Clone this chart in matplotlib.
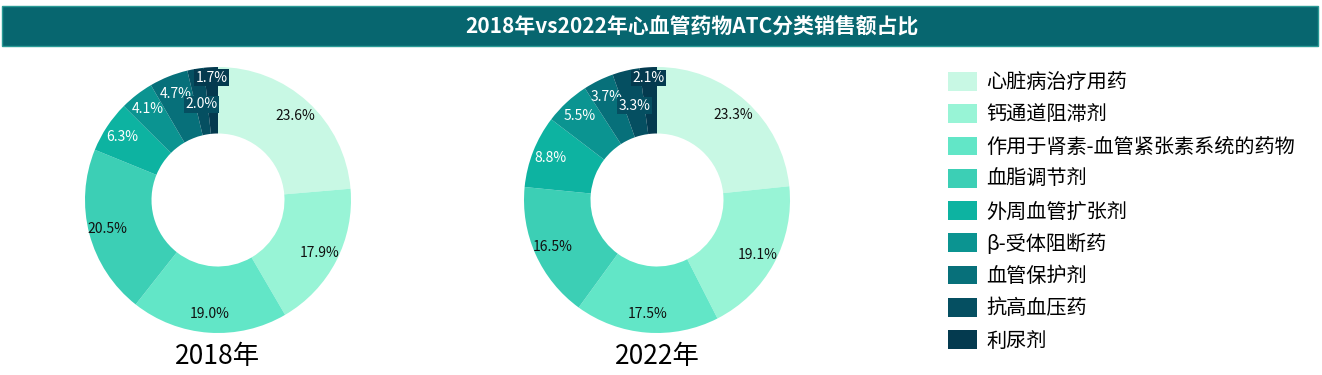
import matplotlib
matplotlib.use('Agg')
import numpy as np
import matplotlib.pyplot as plt
from matplotlib.patches import Patch, Rectangle

plt.rcParams['font.family'] = ['Noto Sans CJK SC', 'DejaVu Sans']

# data
categories = ['心脏病治疗用药', '钙通道阻滞剂', '作用于肾素-血管紧张素系统的药物', '血脂调节剂',
              '外周血管扩张剂', 'β-受体阻断药', '血管保护剂', '抗高血压药', '利尿剂']
share_2018 = [23.6, 17.9, 19.0, 20.5, 6.3, 4.1, 4.7, 2.0, 1.7]
share_2022 = [23.3, 19.1, 17.5, 16.5, 8.8, 5.5, 3.7, 3.3, 2.1]
years = ['2018年', '2022年']
title = '2018年vs2022年心血管药物ATC分类销售额占比'

colors = ['#C8F8E4', '#98F4D6', '#62E6C7', '#3CCFB5', '#0DB3A1',
          '#0B9491', '#07707A', '#054F61', '#043A4F']
dark_text = [True, True, True, True, False, False, False, False, False]

W, H = 1322, 375
fig = plt.figure(figsize=(W / 100, H / 100), dpi=100)

# title band
band = Rectangle((2 / W, 1 - 46 / H), 1316 / W, 40 / H, transform=fig.transFigure,
                 facecolor='#07666F', edgecolor='#2A9A96', linewidth=1)
fig.patches.append(band)
fig.text(692 / W, 1 - 26 / H, title, color='white', fontsize=15, fontweight='bold',
         ha='center', va='center')

R = 133
centers = [(218, 200), (657, 200)]


def draw_donut(cx, cy, values, year):
    ax = fig.add_axes([(cx - R) / W, (H - cy - R) / H, 2 * R / W, 2 * R / H])
    wedges, _ = ax.pie(values, colors=colors, startangle=90, counterclock=False,
                       radius=1, wedgeprops=dict(width=0.5, edgecolor='none'))
    n = len(values)
    for i, (w, v) in enumerate(zip(wedges, values)):
        ang = np.deg2rad((w.theta1 + w.theta2) / 2)
        r = 0.86
        # stagger the two smallest slices so their labels don't collide
        if i == n - 1:
            r = 0.92
        elif i == n - 2:
            r = 0.73
        tc = '#111111' if dark_text[i] else 'white'
        bbox = None
        if i >= n - 2:
            bbox = dict(boxstyle='square,pad=0.1', facecolor=colors[i], edgecolor='none')
        ax.text(r * np.cos(ang), r * np.sin(ang), f'{v:.1f}%', ha='center', va='center',
                fontsize=10, color=tc, bbox=bbox)
    ax.set_xlim(-1, 1)
    ax.set_ylim(-1, 1)
    fig.text(cx / W, 1 - 357 / H, year, fontsize=19, ha='center', va='center', color='black')


draw_donut(*centers[0], share_2018, years[0])
draw_donut(*centers[1], share_2022, years[1])

handles = [Patch(facecolor=c, edgecolor='none') for c in colors]
fig.legend(handles, categories, loc='upper left', bbox_to_anchor=(948 / W, 1 - 72 / H),
           frameon=False, fontsize=14.5, handlelength=1.45, handleheight=1.05,
           handletextpad=0.45, labelspacing=0.55, borderpad=0, borderaxespad=0)

fig.savefig('out.png', dpi=100)
